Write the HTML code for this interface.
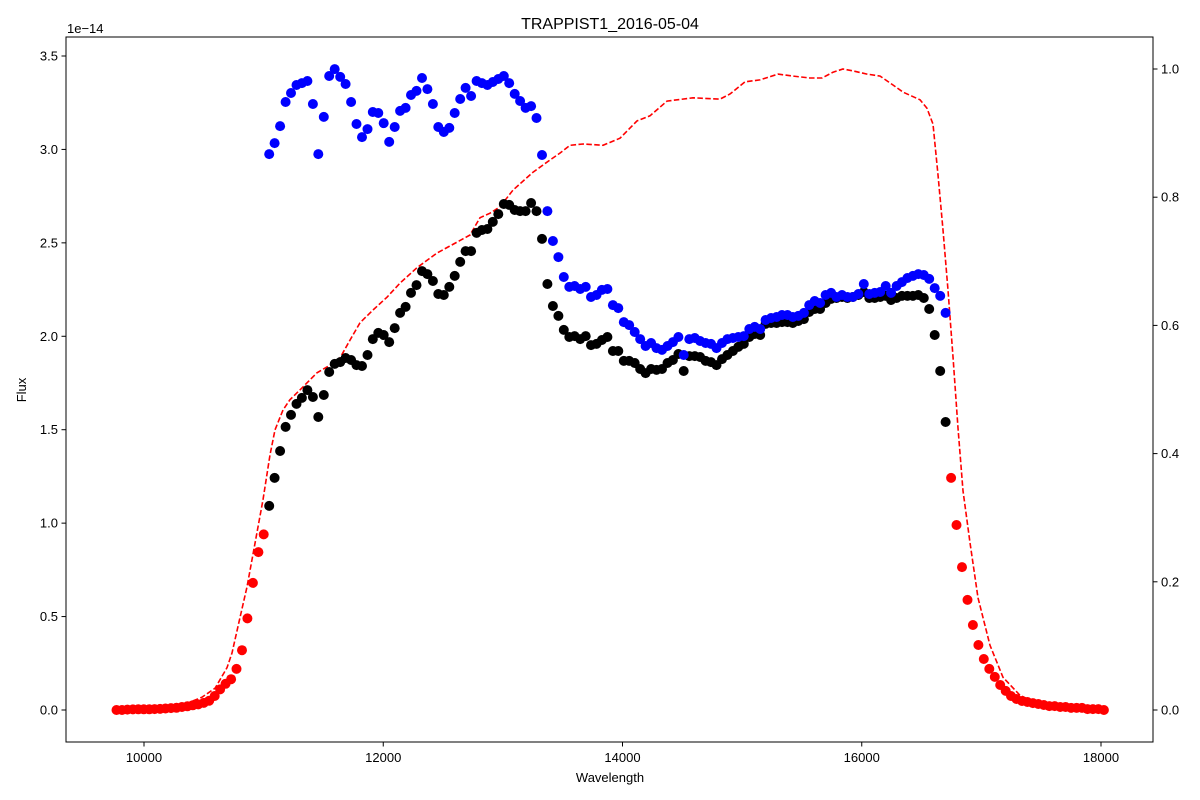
<!DOCTYPE html>
<html><head><meta charset="utf-8"><title>TRAPPIST1_2016-05-04</title>
<style>
html,body{margin:0;padding:0;background:#fff;}
svg{display:block;font-family:"Liberation Sans","DejaVu Sans",sans-serif;}
</style></head>
<body>
<svg id="chart" width="1200" height="800" viewBox="0 0 1200 800" xmlns="http://www.w3.org/2000/svg">
<rect x="0" y="0" width="1200" height="800" fill="#fff"/>
<text x="610" y="29" font-size="16" text-anchor="middle">TRAPPIST1_2016-05-04</text>
<text x="67" y="33" font-size="13">1e−14</text>
<text x="610" y="782" font-size="13" text-anchor="middle">Wavelength</text>
<text x="26" y="390" font-size="13" text-anchor="middle" transform="rotate(-90 26 390)">Flux</text>
<g id="marks"></g>
<rect x="66" y="37" width="1087" height="705" fill="none" stroke="#000" stroke-width="1"/>
<g id="axes"></g>
</svg>
<script>
const wavelength = [9770,9816,9861,9907,9952,9998,10044,10089,10135,10180,10226,10272,10317,10363,10408,10454,10500,10545,10591,10636,10682,10728,10773,10819,10864,10910,10956,11001,11047,11092,11138,11184,11229,11275,11320,11366,11412,11457,11503,11548,11594,11640,11685,11731,11776,11822,11868,11913,11959,12004,12050,12096,12141,12187,12232,12278,12324,12369,12415,12460,12506,12552,12597,12643,12688,12734,12780,12825,12871,12916,12962,13008,13053,13099,13144,13190,13236,13281,13327,13372,13418,13464,13509,13555,13600,13646,13692,13737,13783,13828,13874,13920,13965,14011,14056,14102,14148,14193,14239,14284,14330,14376,14421,14467,14512,14558,14604,14649,14695,14740,14786,14832,14877,14923,14968,15014,15060,15105,15151,15196,15242,15288,15333,15379,15424,15470,15516,15561,15607,15652,15698,15744,15789,15835,15880,15926,15972,16017,16063,16108,16154,16200,16245,16291,16336,16382,16428,16473,16519,16564,16610,16656,16701,16747,16792,16838,16884,16929,16975,17020,17066,17112,17157,17203,17248,17294,17340,17385,17431,17476,17522,17568,17613,17659,17704,17750,17796,17841,17887,17932,17978,18024];
const redLeftFlux = [0.000,0.000,0.002,0.003,0.004,0.004,0.004,0.005,0.006,0.008,0.010,0.012,0.016,0.020,0.025,0.030,0.038,0.050,0.075,0.11,0.14,0.165,0.22,0.32,0.49,0.68,0.845,0.94];
const blackFlux = [1.092,1.242,1.386,1.515,1.579,1.638,1.670,1.712,1.675,1.568,
1.686,1.809,1.852,1.862,1.884,1.873,1.846,1.841,1.900,1.985,
2.018,2.007,1.969,2.044,2.125,2.157,2.232,2.274,2.349,2.333,
2.296,2.226,2.221,2.264,2.323,2.398,2.456,2.456,2.553,2.569,
2.574,2.612,2.654,2.708,2.703,2.676,2.670,2.670,2.713,2.670,
2.521,2.280,2.162,2.109,2.034,
1.996,2.001,1.985,2.001,1.953,1.959,1.980,1.996,1.921,1.921,
1.868,1.868,1.857,1.825,1.803,1.825,1.820,1.825,1.857,1.873,
1.905,1.814,1.894,1.894,1.889,1.868,1.862,1.846,1.878,1.900,
1.921,1.943,1.959,1.996,2.012,2.007,2.066,2.071,2.071,2.076,
2.076,2.071,2.082,2.092,2.130,2.146,2.146,
2.178,2.200,2.205,2.210,2.205,2.210,2.221,2.237,2.205,2.205,2.210,2.216,2.194,2.205,2.216,2.216,2.216,2.221,2.205,2.146,2.007,1.814,1.541];
const blueFlux = [2.975,3.034,3.125,3.254,3.302,3.345,3.355,3.366,3.243,2.975,
3.174,3.393,3.430,3.388,3.350,3.254,3.136,3.066,3.109,3.200,
3.195,3.141,3.040,3.120,3.206,3.222,3.291,3.313,3.382,3.323,
3.243,3.120,3.093,3.115,3.195,3.270,3.329,3.286,3.366,3.355,
3.345,3.361,3.377,3.393,3.355,3.297,3.259,3.222,3.232,3.168,
2.970,2.670,2.510,2.424,2.317,
2.264,2.269,2.253,2.264,2.210,2.221,2.248,2.253,2.167,2.151,
2.076,2.060,2.023,1.985,1.948,1.964,1.937,1.927,1.948,1.969,
1.996,1.900,1.985,1.991,1.975,1.964,1.959,1.937,1.964,1.985,
1.991,1.996,2.001,2.039,2.050,2.039,2.087,2.098,2.103,2.114,
2.114,2.103,2.109,2.125,2.167,2.189,2.178,
2.221,2.232,2.210,2.221,2.210,2.210,2.226,2.280,2.226,2.232,2.237,2.269,2.232,2.269,2.290,2.312,2.323,2.333,2.328,2.307,2.258,2.216,2.125];
const redRightFlux = [1.242,0.990,0.765,0.589,0.455,0.348,0.273,0.220,0.177,0.134,0.102,0.075,0.059,0.048,0.043,0.037,0.032,0.027,0.021,0.021,0.016,0.016,0.011,0.011,0.011,0.005,0.005,0.005,0.000];
const filterWavelength = [9758,10301,10485,10594,10694,10736,10803,10861,10928,10995,11053,11095,11162,11220,11329,11446,11555,11638,11722,11806,11914,12031,12140,12282,12449,12617,12725,12809,12892,12976,13085,13252,13394,13478,13561,13670,13837,13979,14121,14230,14372,14589,14815,14899,15024,15149,15300,15425,15567,15668,15760,15843,15927,16044,16153,16261,16345,16487,16545,16596,16637,16679,16721,16763,16805,16846,16905,16972,17072,17181,17323,17490,17741,18025];
const filterResponse = [0,0.006,0.02,0.034,0.066,0.089,0.145,0.192,0.26,0.328,0.398,0.437,0.468,0.484,0.504,0.526,0.538,0.549,0.577,0.604,0.624,0.644,0.666,0.69,0.713,0.73,0.741,0.768,0.775,0.785,0.811,0.839,0.858,0.869,0.881,0.883,0.881,0.892,0.919,0.927,0.95,0.955,0.953,0.961,0.98,0.983,0.992,0.989,0.986,0.986,0.995,1.0,0.997,0.992,0.989,0.975,0.964,0.952,0.939,0.914,0.835,0.749,0.655,0.551,0.44,0.342,0.261,0.175,0.101,0.051,0.023,0.008,0.003,0.001];
const xTicks = [10000,12000,14000,16000,18000];
const yTicks = [0.0,0.5,1.0,1.5,2.0,2.5,3.0,3.5];
const y2Ticks = [0.0,0.2,0.4,0.6,0.8,1.0];

const NS = "http://www.w3.org/2000/svg";
function xs(w){ return 144 + (w - 10000) * 0.119625; }
function ys(f){ return 710 - f * 186.86; }
function y2s(r){ return 710 - r * 641; }
function mk(tag, attrs, parent){ const e = document.createElementNS(NS, tag); for (const k in attrs) e.setAttribute(k, attrs[k]); parent.appendChild(e); return e; }
const marks = document.getElementById('marks');
const axes = document.getElementById('axes');

// filter curve
let d = '';
filterWavelength.forEach((w, i) => { d += (i ? 'L' : 'M') + xs(w).toFixed(1) + ' ' + y2s(filterResponse[i]).toFixed(1); });
const line = mk('path', {d: d, fill: 'none', stroke: '#ff0000', 'stroke-width': 1.6, 'stroke-dasharray': '5.5 2.4'}, marks);



function drawDots(vals, startIdx, color, name){
  const g = mk('g', {}, marks);
  
  
  vals.forEach((v, k) => {
    const c = mk('circle', {cx: xs(wavelength[startIdx + k]).toFixed(1), cy: ys(v).toFixed(1), r: 5, fill: color}, g);
    
    
  });
}
drawDots(redLeftFlux, 0, '#ff0000', 'red-left');
drawDots(redRightFlux, 28 + blackFlux.length, '#ff0000', 'red-right');
drawDots(blackFlux, 28, '#000000', 'black');
drawDots(blueFlux, 28, '#0000ff', 'blue');
// redraw black that sit below blue? (matplotlib order: black first then blue) - keep order.

xTicks.forEach(t => {
  const x = xs(t);
  const l = mk('line', {x1: x, x2: x, y1: 742, y2: 746.5, stroke: '#000'}, axes);
  
  
  const tx = mk('text', {x: x, y: 762, 'font-size': 13, 'text-anchor': 'middle'}, axes);
  tx.textContent = String(t);
  
  
});
yTicks.forEach(t => {
  const y = ys(t);
  const l = mk('line', {x1: 61.5, x2: 66, y1: y, y2: y, stroke: '#000'}, axes);
  
  
  const tx = mk('text', {x: 58, y: y + 4.5, 'font-size': 13, 'text-anchor': 'end'}, axes);
  tx.textContent = t.toFixed(1);
  
  
});
y2Ticks.forEach(t => {
  const y = y2s(t);
  const l = mk('line', {x1: 1153, x2: 1157.5, y1: y, y2: y, stroke: '#000'}, axes);
  
  
  const tx = mk('text', {x: 1161, y: y + 4.5, 'font-size': 13, 'text-anchor': 'start'}, axes);
  tx.textContent = t.toFixed(1);
  
  
});
</script>
</body></html>
